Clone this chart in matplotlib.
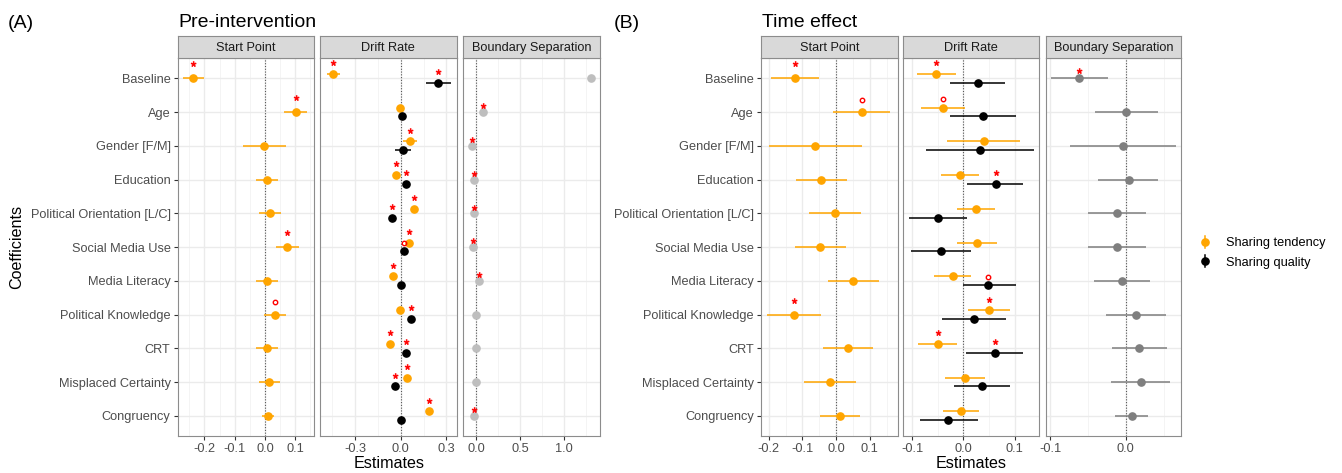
import numpy as np
import matplotlib
matplotlib.use("Agg")
import matplotlib.pyplot as plt
from matplotlib.lines import Line2D
from matplotlib.legend_handler import HandlerBase
from matplotlib.textpath import TextPath
from matplotlib.font_manager import FontProperties
from matplotlib.path import Path

plt.rcParams["font.family"] = ["Liberation Sans", "DejaVu Sans"]

coefficients = ["Baseline", "Age", "Gender [F/M]", "Education",
                "Political Orientation [L/C]", "Social Media Use", "Media Literacy",
                "Political Knowledge", "CRT", "Misplaced Certainty", "Congruency"]

# --- (A) pre-intervention estimates ---
pre_sp_est = [-0.238, 0.103, -0.002, 0.007, 0.018, 0.074, 0.007, 0.034, 0.007, 0.014, 0.009]
pre_sp_lo = [-0.272, 0.064, -0.072, -0.028, -0.019, 0.037, -0.030, -0.002, -0.028, -0.021, -0.010]
pre_sp_hi = [-0.203, 0.140, 0.068, 0.043, 0.054, 0.111, 0.043, 0.070, 0.043, 0.051, 0.029]
pre_sp_sig = ["*", "*", "", "", "", "*", "", "o", "", "", ""]

pre_dr_tend_est = [-0.443, -0.004, 0.061, -0.029, 0.088, 0.057, -0.053, -0.002, -0.068, 0.039, 0.184]
pre_dr_tend_lo = [-0.487, -0.016, 0.018, -0.041, 0.076, 0.045, -0.065, -0.014, -0.080, 0.027, 0.172]
pre_dr_tend_hi = [-0.399, 0.008, 0.110, -0.017, 0.100, 0.069, -0.041, 0.010, -0.056, 0.051, 0.196]
pre_dr_tend_sig = ["*", "", "*", "*", "*", "*", "*", "", "*", "*", "*"]

pre_dr_qual_est = [0.248, 0.009, 0.018, 0.033, -0.057, 0.022, 0.000, 0.066, 0.035, -0.037, 0.002]
pre_dr_qual_lo = [0.167, -0.003, -0.037, 0.021, -0.069, 0.010, -0.012, 0.054, 0.023, -0.049, -0.010]
pre_dr_qual_hi = [0.329, 0.021, 0.066, 0.045, -0.045, 0.034, 0.012, 0.078, 0.047, -0.025, 0.014]
pre_dr_qual_sig = ["*", "", "", "*", "*", "o", "", "*", "*", "*", ""]

pre_bs_est = [1.317, 0.069, -0.050, -0.034, -0.023, -0.038, 0.031, -0.008, 0.000, -0.011, -0.034]
pre_bs_lo = [1.307, 0.059, -0.060, -0.044, -0.033, -0.048, 0.021, -0.018, -0.010, -0.021, -0.044]
pre_bs_hi = [1.327, 0.079, -0.040, -0.024, -0.013, -0.028, 0.041, 0.002, 0.010, -0.001, -0.024]
pre_bs_sig = ["", "*", "*", "*", "*", "*", "*", "", "", "", "*"]

# --- (B) time effect estimates ---
time_sp_est = [-0.122, 0.076, -0.062, -0.044, -0.002, -0.048, 0.050, -0.125, 0.035, -0.018, 0.012]
time_sp_lo = [-0.194, -0.008, -0.199, -0.119, -0.079, -0.123, -0.023, -0.204, -0.040, -0.095, -0.048]
time_sp_hi = [-0.050, 0.161, 0.076, 0.032, 0.074, 0.030, 0.128, -0.046, 0.109, 0.060, 0.071]
time_sp_sig = ["*", "o", "", "", "", "", "", "*", "", "", ""]

time_dr_tend_est = [-0.053, -0.040, 0.040, -0.007, 0.024, 0.026, -0.021, 0.051, -0.050, 0.003, -0.005]
time_dr_tend_lo = [-0.090, -0.083, -0.031, -0.044, -0.013, -0.012, -0.057, 0.010, -0.089, -0.036, -0.039]
time_dr_tend_hi = [-0.015, 0.003, 0.111, 0.030, 0.062, 0.066, 0.015, 0.091, -0.012, 0.042, 0.031]
time_dr_tend_sig = ["*", "o", "", "", "", "", "", "*", "*", "", ""]

time_dr_qual_est = [0.028, 0.039, 0.033, 0.063, -0.049, -0.043, 0.049, 0.021, 0.061, 0.036, -0.029]
time_dr_qual_lo = [-0.025, -0.025, -0.072, 0.008, -0.105, -0.101, 0.000, -0.041, 0.005, -0.018, -0.085]
time_dr_qual_hi = [0.081, 0.102, 0.137, 0.117, 0.008, 0.015, 0.102, 0.083, 0.116, 0.091, 0.028]
time_dr_qual_sig = ["", "", "", "*", "", "", "o", "", "*", "", ""]

time_bs_est = [-0.062, 0.000, -0.003, 0.004, -0.012, -0.012, -0.005, 0.014, 0.018, 0.020, 0.008]
time_bs_lo = [-0.099, -0.040, -0.074, -0.036, -0.050, -0.050, -0.042, -0.026, -0.018, -0.019, -0.014]
time_bs_hi = [-0.024, 0.042, 0.067, 0.042, 0.027, 0.027, 0.032, 0.053, 0.055, 0.058, 0.030]
time_bs_sig = ["*", "", "", "", "", "", "", "", "", "", ""]

ORANGE = "#FFA500"
FIG_W, FIG_H = 1342, 473
STRIP_TOP, PANEL_TOP, PANEL_BOTTOM = 36, 58, 436
BORDER = "#8C8C8C"
DODGE = 0.13


def make_star():
    # filled asterisk glyph centred on its own bounding box, used as a marker
    tp = TextPath((0, 0), "*", prop=FontProperties(family="Liberation Sans"))
    v = tp.vertices.copy()
    lo, hi = v.min(axis=0), v.max(axis=0)
    v -= (lo + hi) / 2
    return Path(v, tp.codes)


STAR = make_star()


def px_axes(fig, x0, y0, x1, y1):
    return fig.add_axes([x0 / FIG_W, 1 - y1 / FIG_H, (x1 - x0) / FIG_W, (y1 - y0) / FIG_H])


def draw_panel(fig, x0, x1, title, series, xlim, major, minor, sig_dy, first):
    ax = px_axes(fig, x0, PANEL_TOP, x1, PANEL_BOTTOM)
    n = len(coefficients)
    rows = np.arange(n)
    ax.set_xlim(*xlim)
    ax.set_ylim(n - 0.4, -0.6)
    ax.set_axisbelow(True)

    ax.set_xticks(major)
    ax.set_xticklabels([f"{t:.1f}" for t in major])
    ax.set_xticks(minor, minor=True)
    ax.set_yticks(rows)
    ax.grid(which="major", color="#EBEBEB", lw=1.0)
    ax.grid(which="minor", axis="x", color="#F3F3F3", lw=0.6)
    ax.axvline(0, color="#555555", lw=0.8, ls=(0, (1, 1.5)), zorder=2)

    for est, lo, hi, sig, color, dy in series:
        est, lo, hi = np.array(est), np.array(lo), np.array(hi)
        y = rows + dy
        ax.errorbar(est, y, xerr=[est - lo, hi - est], fmt="o", color=color, ms=5.2,
                    mec=color, elinewidth=1.1, capsize=0, zorder=3)
        star_i = [i for i, s in enumerate(sig) if s == "*"]
        circ_i = [i for i, s in enumerate(sig) if s == "o"]
        ax.plot(est[star_i], y[star_i] - sig_dy, ls="none", marker=STAR, ms=7,
                color="red", mew=0.5, zorder=4)
        ax.plot(est[circ_i], y[circ_i] - sig_dy, ls="none", marker="o", ms=3.2,
                mfc="none", mec="red", mew=1.0, zorder=4)

    for sp in ax.spines.values():
        sp.set_color(BORDER)
        sp.set_linewidth(0.8)
    ax.tick_params(which="major", length=3, color="#333333", labelsize=9.2,
                   labelcolor="#4D4D4D", pad=2)
    ax.tick_params(which="minor", length=0)
    if first:
        ax.set_yticklabels(coefficients)
    else:
        ax.tick_params(axis="y", left=False, labelleft=False)

    strip = px_axes(fig, x0, STRIP_TOP, x1, PANEL_TOP)
    strip.set_facecolor("#D9D9D9")
    strip.set_xticks([])
    strip.set_yticks([])
    for sp in strip.spines.values():
        sp.set_color(BORDER)
        sp.set_linewidth(0.8)
    strip.text(0.5, 0.45, title, ha="center", va="center", fontsize=9.2, color="#1A1A1A",
               transform=strip.transAxes)
    return ax


class PointRangeHandler(HandlerBase):
    def create_artists(self, legend, orig_handle, xdescent, ydescent, width, height,
                       fontsize, trans):
        color = orig_handle.get_color()
        cx = width / 2 - xdescent
        cy = height / 2 - ydescent
        bar = Line2D([cx, cx], [cy - height * 0.7, cy + height * 0.7], color=color,
                     lw=1.1, transform=trans)
        dot = Line2D([cx], [cy], marker="o", ms=5.2, color=color, ls="none",
                     transform=trans)
        return [bar, dot]


fig = plt.figure(figsize=(FIG_W / 100, FIG_H / 100), dpi=100)

# (A) Pre-intervention
draw_panel(fig, 177.5, 314, "Start Point",
           [(pre_sp_est, pre_sp_lo, pre_sp_hi, pre_sp_sig, ORANGE, 0)],
           (-0.289, 0.162), [-0.2, -0.1, 0.0, 0.1], [-0.25, -0.15, -0.05, 0.05, 0.15],
           0.36, True)
draw_panel(fig, 320, 456.7, "Drift Rate",
           [(pre_dr_tend_est, pre_dr_tend_lo, pre_dr_tend_hi, pre_dr_tend_sig, ORANGE, -DODGE),
            (pre_dr_qual_est, pre_dr_qual_lo, pre_dr_qual_hi, pre_dr_qual_sig, "black", DODGE)],
           (-0.531, 0.368), [-0.3, 0.0, 0.3], [-0.45, -0.15, 0.15], 0.26, False)
draw_panel(fig, 462.7, 600, "Boundary Separation",
           [(pre_bs_est, pre_bs_lo, pre_bs_hi, pre_bs_sig, "#BEBEBE", 0)],
           (-0.158, 1.416), [0.0, 0.5, 1.0], [0.25, 0.75, 1.25], 0.11, False)

# (B) Time effect
draw_panel(fig, 761, 898, "Start Point",
           [(time_sp_est, time_sp_lo, time_sp_hi, time_sp_sig, ORANGE, 0)],
           (-0.223, 0.184), [-0.2, -0.1, 0.0, 0.1], [-0.15, -0.05, 0.05, 0.15],
           0.35, True)
draw_panel(fig, 902.5, 1039, "Drift Rate",
           [(time_dr_tend_est, time_dr_tend_lo, time_dr_tend_hi, time_dr_tend_sig, ORANGE, -DODGE),
            (time_dr_qual_est, time_dr_qual_lo, time_dr_qual_hi, time_dr_qual_sig, "black", DODGE)],
           (-0.1185, 0.1476), [-0.1, 0.0, 0.1], [-0.05, 0.05], 0.25, False)
draw_panel(fig, 1045.7, 1181, "Boundary Separation",
           [(time_bs_est, time_bs_lo, time_bs_hi, time_bs_sig, "#7F7F7F", 0)],
           (-0.1057, 0.073), [-0.1, 0.0], [-0.05, 0.05], 0.17, False)

# titles and axis labels
fig.text(8 / FIG_W, 1 - 23 / FIG_H, "(A)", fontsize=14, va="center")
fig.text(178 / FIG_W, 1 - 27 / FIG_H, "Pre-intervention", fontsize=14, va="baseline")
fig.text(614 / FIG_W, 1 - 23 / FIG_H, "(B)", fontsize=14, va="center")
fig.text(762 / FIG_W, 1 - 27 / FIG_H, "Time effect", fontsize=14, va="baseline")
fig.text(388.7 / FIG_W, 1 - 468 / FIG_H, "Estimates", fontsize=11.6, ha="center", va="baseline")
fig.text(971 / FIG_W, 1 - 468 / FIG_H, "Estimates", fontsize=11.6, ha="center", va="baseline")
fig.text(17 / FIG_W, 1 - 247 / FIG_H, "Coefficients", fontsize=11.6, rotation=90,
         ha="center", va="center")

handles = [Line2D([], [], color=ORANGE), Line2D([], [], color="black")]
fig.legend(handles, ["Sharing tendency", "Sharing quality"],
           handler_map={Line2D: PointRangeHandler()}, loc="center left",
           bbox_to_anchor=(1186 / FIG_W, 1 - 253 / FIG_H), frameon=False, fontsize=9.2,
           handlelength=1.2, handletextpad=1.0, labelspacing=0.55)

fig.savefig("out.png", dpi=100)
